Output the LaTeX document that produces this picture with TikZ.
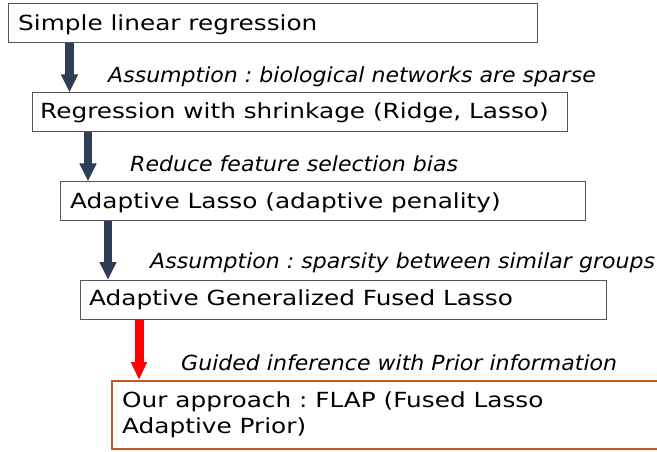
\documentclass[tikz,border=0pt]{standalone}
\usepackage{fontspec}
\setmainfont{DejaVu Sans}
\newfontfamily\stagefont[FakeStretch=1.19]{DejaVu Sans}
\newfontfamily\notefont[FakeStretch=1.06]{DejaVu Sans}
\usetikzlibrary{arrows.meta}
\definecolor{stepgray}{HTML}{555555}
\definecolor{slateblue}{HTML}{2E3F55}
\definecolor{flaporange}{HTML}{C5561E}
\frenchspacing
\begin{document}
\begin{tikzpicture}[x=1pt,y=-1pt,
  stagebox/.style={draw=stepgray,line width=1pt,fill=white,inner sep=0pt},
  stagetext/.style={anchor=base west,inner sep=0pt,font=\stagefont\fontsize{20.8}{26}\selectfont},
  notetext/.style={anchor=base west,inner sep=0pt,font=\notefont\fontsize{20.8}{26}\selectfont\itshape},
  flow/.style={line width=8.5pt,draw=slateblue,-{Triangle[length=18pt,width=16pt]}},
  priorflow/.style={line width=9pt,draw=red,-{Triangle[length=18pt,width=15pt]}}]
\useasboundingbox (0,0) rectangle (657,452);
\fill[white] (0,0) rectangle (657,452);

% stage boxes
\draw[stagebox] (8,3.5) rectangle (537,42.5);
\draw[stagebox] (32,92.5) rectangle (567,131.5);
\draw[stagebox] (60,181.5) rectangle (585,220.5);
\draw[stagebox] (80,280) rectangle (606,319);
\draw[draw=flaporange,line width=2pt] (660,381) -- (112,381) -- (112,449) -- (660,449);

% box texts
\node[stagetext] (s1) at (18,30.7) {Simple linear regression};
\node[stagetext] (s2) at (40,118.3) {Regression with shrinkage (Ridge, Lasso)};
\node[stagetext] (s3) at (70,208.3) {Adaptive Lasso (adaptive penality)};
\node[stagetext] (s4) at (89,305) {Adaptive Generalized Fused Lasso};
\node[stagetext] (s5a) at (122,407) {Our approach : FLAP (Fused Lasso};
\node[stagetext] (s5b) at (122,433.5) {Adaptive Prior)};

% transition notes
\node[notetext] (n1) at (108,82.7) {Assumption : biological networks are sparse};
\node[notetext] (n2) at (130,171.7) {Reduce feature selection bias};
\node[notetext] (n3) at (150,268.3) {Assumption : sparsity between similar groups};
\node[notetext] (n4) at (181,370) {Guided inference with Prior information};

% arrows between stages
\coordinate (a1s) at (69.5,43);    \coordinate (a1e) at (69.5,92.5);
\coordinate (a2s) at (88,132);     \coordinate (a2e) at (88,181.5);
\coordinate (a3s) at (108,221);    \coordinate (a3e) at (108,280);
\coordinate (a4s) at (139,319.5);  \coordinate (a4e) at (139,380);
\draw[flow] (a1s) -- (a1e);
\draw[flow] (a2s) -- (a2e);
\draw[flow] (a3s) -- (a3e);
\draw[priorflow] (a4s) -- (a4e);
\end{tikzpicture}
\end{document}
